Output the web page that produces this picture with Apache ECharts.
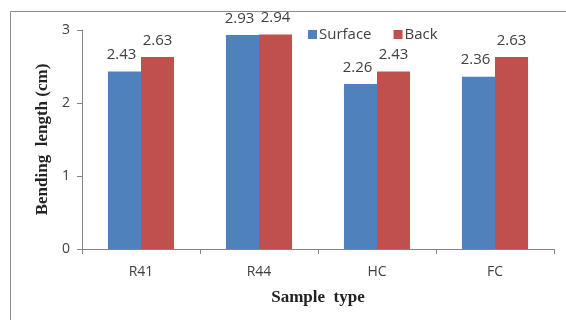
<!DOCTYPE html>
<html><head><meta charset="utf-8">
<script src="https://cdn.jsdelivr.net/npm/echarts@6/dist/echarts.min.js"></script>
<style>html,body{margin:0;padding:0;background:#fff}#c{width:566px;height:320px}</style>
</head><body><div id="c"></div>
<script>
var categories = ['R41', 'R44', 'HC', 'FC'];
var surface = [2.43, 2.93, 2.26, 2.36];
var back = [2.63, 2.94, 2.43, 2.63];
var yTicks = [0, 1, 2, 3];

var chart = echarts.init(document.getElementById('c'), null, {renderer: 'canvas'});
var labelStyle = {show: true, position: 'top', distance: 4, color: '#404040', fontSize: 15, fontFamily: 'Open Sans, sans-serif', formatter: function(p){return p.value.toFixed(2);}};
chart.setOption({
  animation: false,
  graphic: [{type: 'rect', shape: {x: 10.5, y: 11.5, width: 600, height: 400}, style: {fill: 'none', stroke: '#8c8c8c', lineWidth: 1}, silent: true}],
  legend: {
    left: 303, top: 22, itemWidth: 9, itemHeight: 9, itemGap: 22, icon: 'rect',
    textStyle: {color: '#404040', fontSize: 15, fontFamily: 'Open Sans, sans-serif', padding: [0,0,0,-3]},
    data: ['Surface', 'Back']
  },
  grid: {left: 82, right: 12, top: 30, bottom: 71, containLabel: false},
  xAxis: {
    type: 'category', data: categories,
    name: 'Sample  type', nameLocation: 'middle', nameGap: 40,
    nameTextStyle: {fontFamily: 'Liberation Serif, serif', fontWeight: 'bold', fontSize: 17, color: '#222'},
    axisLine: {lineStyle: {color: '#868686'}},
    axisTick: {show: true, length: 5, lineStyle: {color: '#868686'}},
    axisLabel: {color: '#404040', fontSize: 14, fontFamily: 'Open Sans, sans-serif', margin: 16}
  },
  yAxis: {
    type: 'value', min: yTicks[0], max: yTicks[yTicks.length-1], interval: 1,
    name: 'Bending  length (cm)', nameLocation: 'middle', nameGap: 31,
    nameTextStyle: {fontFamily: 'Liberation Serif, serif', fontWeight: 'bold', fontSize: 17, color: '#222'},
    axisLine: {show: true, lineStyle: {color: '#868686'}},
    axisTick: {show: true, length: 5, lineStyle: {color: '#868686'}},
    splitLine: {show: false},
    axisLabel: {color: '#404040', fontSize: 14, fontFamily: 'Open Sans, sans-serif', margin: 12}
  },
  series: [
    {name: 'Surface', type: 'bar', data: surface, barGap: '0%', barCategoryGap: '44%', itemStyle: {color: '#4F81BD'}, label: Object.assign({}, labelStyle, {offset: [-3, -5]})},
    {name: 'Back', type: 'bar', data: back, itemStyle: {color: '#C0504D'}, label: Object.assign({}, labelStyle, {offset: [0, -5]})}
  ]
});
</script></body></html>
